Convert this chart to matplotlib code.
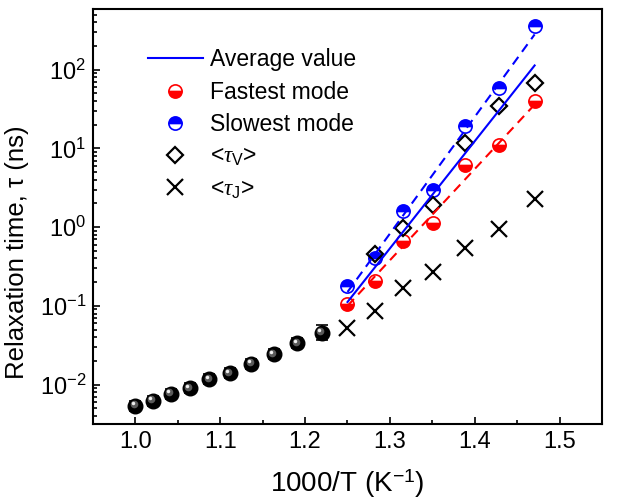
import numpy as np
import matplotlib.pyplot as plt
from matplotlib.transforms import offset_copy

plt.rcParams['font.family'] = ['Liberation Sans', 'DejaVu Sans']
plt.rcParams['mathtext.fontset'] = 'custom'
plt.rcParams['mathtext.rm'] = 'Liberation Sans'
plt.rcParams['mathtext.it'] = 'Liberation Serif:italic'

# high temperature points (black spheres), temperatures in K
T_hi = np.array([1000, 980, 960, 940, 920, 900, 880, 860, 840, 820])
tau_hi = np.array([0.00538, 0.00628, 0.00764, 0.00903, 0.01175, 0.0140, 0.01837, 0.0244, 0.0337, 0.0459])
tau_hi_lo = np.array([0.00465, 0.00543, 0.00661, 0.00781, 0.01016, 0.0121, 0.0159, 0.0211, 0.0291, 0.0365])
tau_hi_up = np.array([0.00622, 0.00727, 0.00884, 0.01044, 0.01359, 0.0162, 0.0212, 0.0282, 0.0390, 0.0578])

# low temperature points
T_lo = np.array([800, 780, 760, 740, 720, 700, 680])
tau_fast = np.array([0.106, 0.2085, 0.658, 1.13, 6.2, 10.9, 39.6])
tau_slow = np.array([0.18, 0.40, 1.58, 2.93, 19.4, 58.5, 357])
T_v = np.array([780, 760, 740, 720, 700, 680])
tau_v = np.array([0.455, 0.975, 1.93, 11.7, 34.4, 67.8])
tau_j = np.array([0.0522, 0.0867, 0.168, 0.266, 0.542, 0.946, 2.27])

# Arrhenius fit lines (end points)
T_fit = np.array([800, 680])
fit_avg = np.array([0.112, 113])
fit_fast = np.array([0.10, 36])
fit_slow = np.array([0.15, 280])

x_hi = 1000 / T_hi
x_lo = 1000 / T_lo
x_v = 1000 / T_v
x_fit = 1000 / T_fit

fig = plt.figure(figsize=(6.18, 5.04), dpi=100)
ax = fig.add_axes([93/618, 1-424/504, 509/618, 415/504])

# spheres with error bars
ax.errorbar(x_hi, tau_hi, yerr=[tau_hi - tau_hi_lo, tau_hi_up - tau_hi],
            fmt='o', ms=10.5, color='black', mec='black', ecolor='black',
            elinewidth=1.2, capsize=4.5, capthick=1.2, zorder=3)
hl1 = offset_copy(ax.transData, fig=fig, x=-1.5, y=1.5, units='dots')
ax.plot(x_hi, tau_hi, 'o', ms=5.5, color='#5a5a5a', mec='none', transform=hl1, zorder=4)
hl2 = offset_copy(ax.transData, fig=fig, x=-2.5, y=2.5, units='dots')
ax.plot(x_hi, tau_hi, 'o', ms=2.5, color='#f0f0f0', mec='none', transform=hl2, zorder=5)

ax.plot(x_lo, tau_j, 'x', ms=11.5, mew=1.6, color='black', label=r'<$\tau_{\mathrm{J}}$>', zorder=3)
ax.plot(x_lo, tau_slow, 'o', ms=9.5, fillstyle='top', color='blue', mfc='blue',
        markerfacecoloralt='white', mec='blue', mew=1.2, label='Slowest mode', zorder=3)
ax.plot(x_lo, tau_fast, 'o', ms=9.5, fillstyle='bottom', color='red', mfc='red',
        markerfacecoloralt='white', mec='red', mew=1.2, label='Fastest mode', zorder=3)
ax.plot(x_v, tau_v, 'D', ms=8, mfc='none', mec='black', mew=1.6, label=r'<$\tau_{\mathrm{V}}$>', zorder=3)

avg_line, = ax.plot(x_fit, fit_avg, '-', color='blue', lw=1.5, label='Average value', zorder=6)
ax.plot(x_fit, fit_fast, '--', color='red', lw=1.5, dashes=(4.5, 3), zorder=6)
ax.plot(x_fit, fit_slow, '--', color='blue', lw=1.5, dashes=(4.5, 3), zorder=6)

ax.set_yscale('log')
ax.set_xlim(0.95, 1.5)
ax.set_ylim(10**-2.5, 10**2.77)
ax.set_xticks([1.0, 1.1, 1.2, 1.3, 1.4, 1.5])
ax.set_xticks(np.arange(0.95, 1.5, 0.1) + 0.1, minor=True)
ax.xaxis.set_major_formatter(plt.FormatStrFormatter('%.1f'))
ax.tick_params(which='both', direction='in', top=False, right=False, labelsize=17, width=1.2)
ax.tick_params(which='major', length=5, pad=5)
ax.tick_params(which='minor', length=3)
for s in ax.spines.values():
    s.set_linewidth(1.5)

ax.set_xlabel(r'1000/T (K$^{\mathdefault{-1}}$)', fontsize=20)
ax.set_ylabel('Relaxation time, τ (ns)', fontsize=18.5)
ax.xaxis.set_label_coords(0.5, -0.105)
ax.yaxis.set_label_coords(-0.125, 0.415)

h, l = ax.get_legend_handles_labels()
order = ['Average value', 'Fastest mode', 'Slowest mode', r'<$\tau_{\mathrm{V}}$>', r'<$\tau_{\mathrm{J}}$>']
hd = dict(zip(l, h))
ax.legend([hd[k] for k in order], order, loc='upper left', bbox_to_anchor=(0.108, 0.905),
          frameon=False, fontsize=16.5, numpoints=1, handlelength=2.4, handletextpad=0.3,
          labelspacing=0.4, borderpad=0, borderaxespad=0)

fig.savefig('out.png', dpi=100)
